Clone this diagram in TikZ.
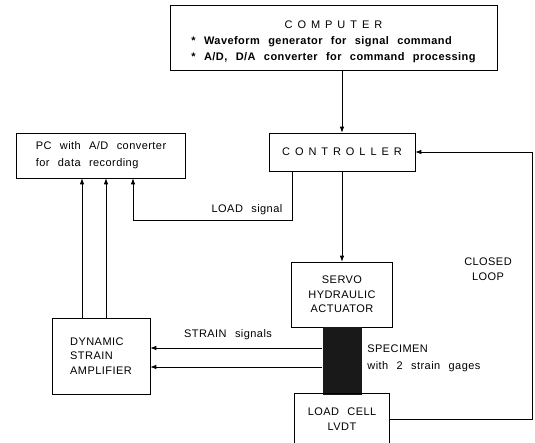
\documentclass[tikz,border=0pt]{standalone}
\usepackage{fontspec}
\setmainfont{Liberation Sans}[WordSpace=2.4, LetterSpace=4]
\newfontfamily\widefont{Liberation Sans}[LetterSpace=45]
\usetikzlibrary{arrows.meta}

\begin{document}
\begin{tikzpicture}[
x=1pt, y=-1pt,
line width=0.8pt,
font=\fontsize{11}{14.5}\selectfont,
every node/.style={align=center, inner sep=0pt},
box/.style={draw, line width=0.6pt},
arr/.style={-{Latex[length=6pt,width=4.5pt]}}
]
\useasboundingbox (0,0) rectangle (535,442);
\clip (0,0) rectangle (535,442);

% blocks
\node[box, minimum width=327pt, minimum height=65pt] (computer) at (333.5,37.5)
{\raisebox{-4pt}[\height][\depth]{\begin{tabular}{@{}c@{}}
{\widefont COMPUTER}\\[2pt]
\begin{tabular}{@{}l@{}}
\bfseries * Waveform generator for signal command\\[1pt]
\bfseries * A/D, D/A converter for command processing
\end{tabular}
\end{tabular}}};

\node[box, minimum width=146pt, minimum height=38pt] (controller) at (342,152) {\widefont CONTROLLER};

\node[box, minimum width=169pt, minimum height=45pt, align=left,
font=\fontsize{11}{17}\selectfont] (pc) at (101,155.5) {PC with A/D converter\\for data recording};

\node[box, minimum width=101pt, minimum height=65pt] (servo) at (342,294.5) {SERVO\\HYDRAULIC\\ACTUATOR};

\node[fill=black!90, minimum width=39pt, minimum height=68pt] (specimen) at (342,361) {};

\node[box, minimum width=95pt, minimum height=52pt] (loadcell) at (342,419) {LOAD CELL\\LVDT};

\node[box, minimum width=98pt, minimum height=76pt, align=left] (dynamic) at (101,356) {DYNAMIC\\STRAIN\\AMPLIFIER};

% labels
\node (loadlbl) at (247,210) {LOAD signal};
\node (strainlbl) at (228,335) {STRAIN signals};
\node[anchor=west, align=left, font=\fontsize{11}{17}\selectfont] (speclbl) at (367,358) {SPECIMEN\\with 2 strain gages};
\node (looplbl) at (488,269) {CLOSED\\LOOP};

\coordinate (loopc) at (532,152);

% connectors
\draw[arr] (computer.south -| controller.north) -- (controller.north);
\draw[arr] (controller) -- (servo);
\draw[arr] ([xshift=-50pt]controller.south) -- ++(0,49) -| ([xshift=32pt]pc.south);
\foreach \dx in {-19,5}
  \draw[arr] ([xshift=\dx pt]dynamic.north) -- ([xshift=\dx pt]pc.south);
\foreach \dy in {13,-6}
  \draw[arr] ([yshift=\dy pt]specimen.west) coordinate (s) -- (s -| dynamic.east);
\draw[arr] (loadcell.east) -| (loopc) -- (controller.east);

\end{tikzpicture}
\end{document}
